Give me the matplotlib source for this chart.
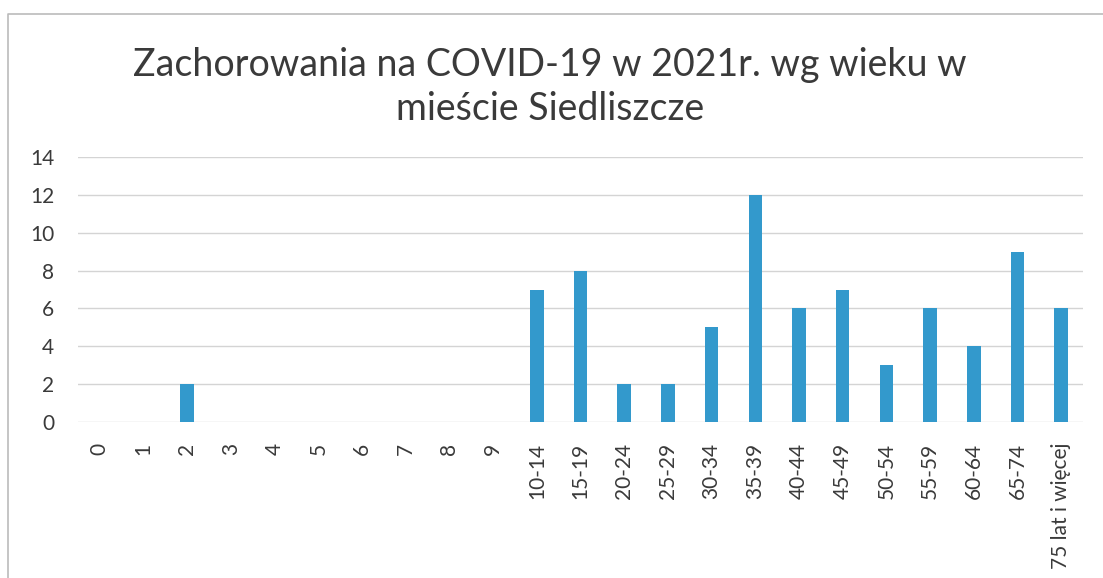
import matplotlib
matplotlib.use("Agg")
import matplotlib.pyplot as plt
from matplotlib.lines import Line2D

plt.rcParams['font.family'] = ['Lato', 'DejaVu Sans']

categories = ['0', '1', '2', '3', '4', '5', '6', '7', '8', '9',
              '10-14', '15-19', '20-24', '25-29', '30-34', '35-39', '40-44',
              '45-49', '50-54', '55-59', '60-64', '65-74', '75 lat i więcej']
values = [0, 0, 2, 0, 0, 0, 0, 0, 0, 0,
          7, 8, 2, 2, 5, 12, 6, 7, 3, 6, 4, 9, 6]
yticks = [0, 2, 4, 6, 8, 10, 12, 14]
title = 'Zachorowania na COVID-19 w 2021r. wg wieku w\nmieście Siedliszcze'

W, H = 1103, 578
fig = plt.figure(figsize=(W / 100, H / 100), dpi=100)
fig.patch.set_facecolor('white')

ax = fig.add_axes([78 / W, 1 - 422 / H, (1083 - 78) / W, (422 - 157) / H])
x = list(range(len(categories)))
ax.bar(x, values, width=0.31, color='#3399CC', zorder=3)
ax.set_xlim(-0.5, len(categories) - 0.5)
ax.set_ylim(0, 14)
ax.set_yticks(yticks)
ax.set_xticks(x)
ax.set_xticklabels(categories, rotation=90, fontsize=15, color='#3a3a3a')
ax.tick_params(axis='y', labelsize=15, labelcolor='#3a3a3a', length=0, pad=17)
ax.tick_params(axis='x', length=0, pad=15)
ax.grid(axis='y', color='#D4D4D4', linewidth=1.0, zorder=0)
for s in ax.spines.values():
    s.set_visible(False)

fig.text(550 / W, 1 - 87 / H, title, ha='center', va='center',
         fontsize=27, color='#3a3a3a', linespacing=1.3)

# outer chart border (visible left and top edges)
fig.add_artist(Line2D([8 / W, 8 / W, 1.0], [0.0, 1 - 14 / H, 1 - 14 / H],
                      transform=fig.transFigure, color='#BBBBBB', linewidth=1.2))

fig.savefig('out.png', dpi=100)
